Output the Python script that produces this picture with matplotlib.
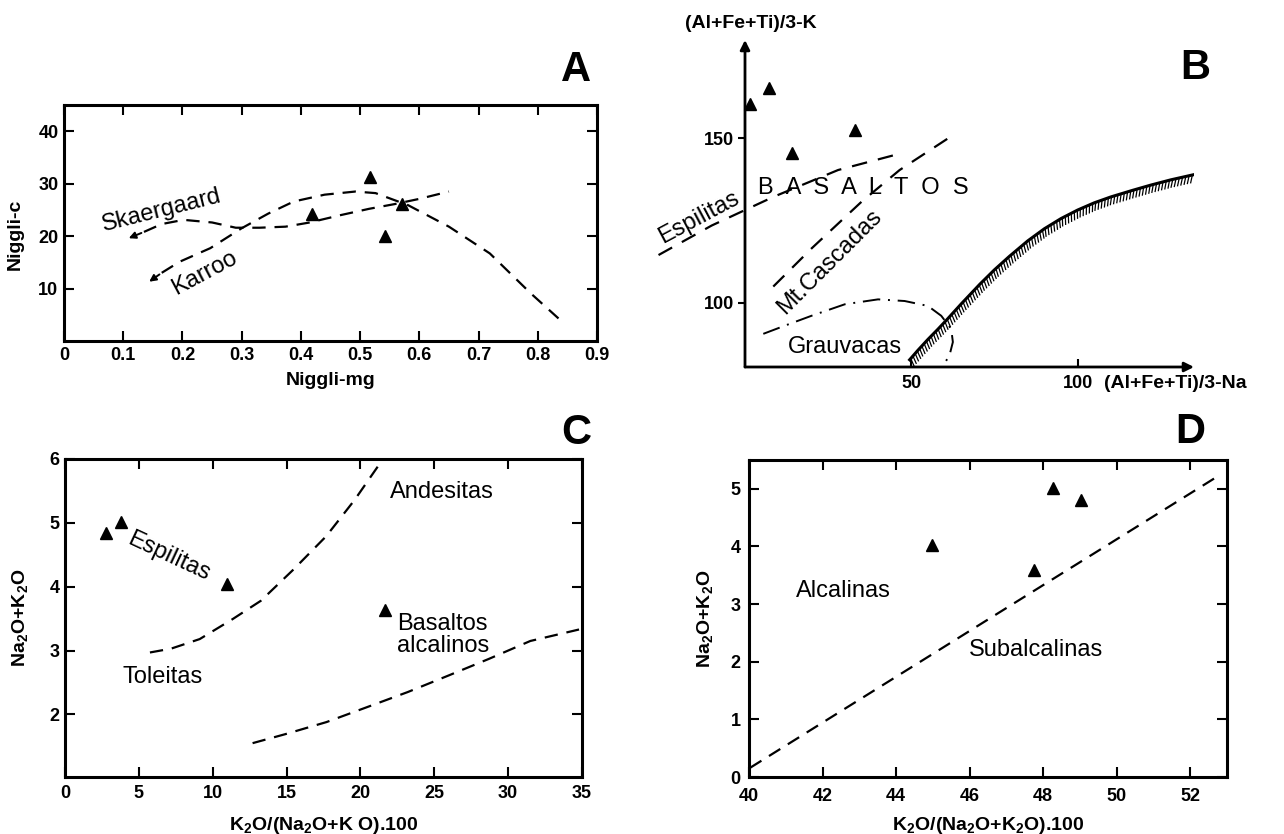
import numpy as np
import matplotlib.pyplot as plt
import matplotlib.patheffects as pe

plt.rcParams['font.family'] = ['Liberation Sans', 'DejaVu Sans']
plt.rcParams['mathtext.fontset'] = 'custom'
plt.rcParams['mathtext.rm'] = 'Liberation Sans'
plt.rcParams['mathtext.bf'] = 'Liberation Sans:bold'

# ---- data ----
# A: Niggli-mg vs Niggli-c
a_pts_x = [0.418, 0.517, 0.542, 0.571]
a_pts_y = [24.3, 31.3, 20.0, 26.1]
skaer_x = [0.105, 0.135, 0.165, 0.202, 0.25, 0.29, 0.33, 0.374, 0.415, 0.467, 0.515, 0.558, 0.60, 0.650]
skaer_y = [19.4, 20.8, 22.3, 23.1, 22.6, 21.6, 21.6, 21.8, 22.6, 24.0, 25.2, 26.1, 27.1, 28.5]
karroo_x = [0.14, 0.165, 0.195, 0.247, 0.300, 0.345, 0.388, 0.44, 0.492, 0.526, 0.581, 0.650, 0.719, 0.788, 0.835]
karroo_y = [11.0, 13.0, 15.1, 17.7, 21.5, 24.3, 26.6, 27.9, 28.5, 28.2, 25.9, 21.8, 16.7, 9.1, 4.3]

# B: (Al+Fe+Ti)/3-Na vs (Al+Fe+Ti)/3-K
b_pts_x = [1.5, 7.3, 14.1, 33.2]
b_pts_y = [160.6, 165.3, 145.7, 152.6]
espil_x = [-26, -10, 8.5, 28, 45.5]
espil_y = [114.5, 123.5, 132.2, 140.4, 145.1]
casc_x = [8.5, 20, 35, 46.5, 62.5]
casc_y = [104.9, 116.5, 130.7, 140.4, 151.0]
grauv_x = [5.5, 12, 20, 30, 40, 48, 55, 59, 62, 62.5, 61.5, 60]
grauv_y = [90.5, 93.0, 96.0, 99.5, 101.0, 100.5, 99.0, 96.0, 92.0, 88.0, 84.0, 81.5]
hatch_x = [49.5, 52, 55, 58, 60.6, 65, 70.6, 75, 79.5, 85, 90, 95, 100, 105, 110, 116.5, 122, 128, 135]
hatch_y = [82.6, 85.5, 88.8, 91.9, 94.7, 99.6, 105.6, 110.0, 114.1, 118.8, 122.5, 125.6, 128.2, 130.4, 132.2, 134.2, 135.8, 137.4, 139.0]

# C: K2O/(Na2O+K2O).100 vs Na2O+K2O
c_pts_x = [2.8, 3.76, 10.94, 21.66]
c_pts_y = [4.84, 5.01, 4.05, 3.64]
c_up_x = [5.75, 7.18, 9.12, 11.33, 13.26, 15.47, 17.68, 19.61, 21.41]
c_up_y = [2.97, 3.03, 3.18, 3.49, 3.78, 4.27, 4.79, 5.36, 5.96]
c_low_x = [12.7, 14.9, 17.7, 20.4, 23.2, 25.97, 28.7, 31.5, 34.8]
c_low_y = [1.55, 1.69, 1.88, 2.11, 2.35, 2.61, 2.87, 3.15, 3.33]

# D
d_pts_x = [44.97, 47.74, 48.28, 49.03]
d_pts_y = [4.02, 3.60, 5.02, 4.80]
d_line_x = [40.03, 52.83]
d_line_y = [0.16, 5.25]

W, H = 1284, 834
fig = plt.figure(figsize=(W / 100, H / 100), dpi=100)
fig.patch.set_facecolor('white')


def px_axes(l, t, r, b):
    return fig.add_axes([l / W, 1 - b / H, (r - l) / W, (b - t) / H])


def boxed(ax):
    for s in ax.spines.values():
        s.set_linewidth(2.2)
    ax.tick_params(direction='in', length=7, width=1.5, top=True, right=True,
                   labelsize=13, pad=4)


dash = (0, (6, 4))
tri = dict(marker='^', color='k', ms=9, ls='none', clip_on=False)
txt = dict(fontsize=17, color='k', ha='center', va='center')
bold_lbl = dict(fontsize=14, fontweight='bold')

# ---------------- A ----------------
axA = px_axes(64, 105, 597, 341)
boxed(axA)
axA.set_xlim(0, 0.9)
axA.set_ylim(0, 45)
xt = np.arange(0, 1.0, 0.1)
axA.set_xticks(xt, ['0'] + ['%.1f' % v for v in xt[1:]], fontweight='bold')
axA.set_yticks([10, 20, 30, 40], ['10', '20', '30', '40'], fontweight='bold')
axA.plot(skaer_x[1:], skaer_y[1:], 'k', lw=1.6, ls=dash)
axA.plot(karroo_x[1:], karroo_y[1:], 'k', lw=1.6, ls=dash)
for xs, ys in [(skaer_x, skaer_y), (karroo_x, karroo_y)]:
    axA.annotate('', xy=(xs[0], ys[0]), xytext=(xs[1], ys[1]),
                 arrowprops=dict(arrowstyle='-|>', color='k', lw=1.4, mutation_scale=10))
axA.plot(a_pts_x, a_pts_y, **tri)
axA.text(0.165, 24.9, 'Skaergaard', rotation=14, **txt)
axA.text(0.238, 13.0, 'Karroo', rotation=28, **txt)
axA.set_xlabel('Niggli-mg', **bold_lbl)
axA.set_ylabel('Niggli-c', **bold_lbl)
axA.xaxis.set_label_coords(0.5, -0.13)
axA.yaxis.set_label_coords(-0.075, 0.45)

# ---------------- B ----------------
axB = px_axes(745, 40, 1194, 367)
axB.set_xlim(0, 135)
axB.set_ylim(80.4, 180)
for s in axB.spines.values():
    s.set_visible(False)
for end in [(1, 0), (0, 1)]:
    axB.annotate('', xy=end, xytext=(0, 0), xycoords='axes fraction',
                 arrowprops=dict(arrowstyle='-|>', color='k', lw=2, mutation_scale=14,
                                 shrinkA=0, shrinkB=0))
axB.set_xticks([50, 100], ['50', '100'], fontweight='bold')
axB.set_yticks([100, 150], ['100', '150'], fontweight='bold')
axB.tick_params(axis='x', direction='in', length=6, width=1.5, labelsize=13, pad=6)
axB.tick_params(axis='y', direction='out', length=5, width=1.5, labelsize=13, pad=3)
axB.plot(espil_x, espil_y, 'k', lw=1.6, ls=(0, (7, 5)), clip_on=False)
axB.plot(casc_x, casc_y, 'k', lw=1.6, ls=(0, (7, 5)))
axB.plot(grauv_x, grauv_y, 'k', lw=1.4, ls=(0, (9, 4, 1, 4)))
axB.plot(hatch_x, hatch_y, 'k', lw=0.9,
         path_effects=[pe.withTickedStroke(angle=-115, spacing=2.4, length=2.4)])
axB.plot(hatch_x, hatch_y, 'k', lw=2.2)
axB.plot(b_pts_x, b_pts_y, **tri)
axB.text(35.5, 134.8, 'B  A  S  A  L  T  O  S', **txt)
axB.text(-14.0, 125.8, 'Espilitas', rotation=28, clip_on=False, **txt)
axB.text(25.5, 112.3, 'Mt.Cascadas', rotation=45, **txt)
axB.text(30, 86.6, 'Grauvacas', **txt)
fig.text(751 / W, 1 - 23 / H, '(Al+Fe+Ti)/3-K', ha='center', va='center', **bold_lbl)
fig.text(1104 / W, 1 - 383 / H, '(Al+Fe+Ti)/3-Na', ha='left', va='center', **bold_lbl)

# ---------------- C ----------------
axC = px_axes(65, 459, 582, 777)
boxed(axC)
axC.set_xlim(0, 35)
axC.set_ylim(1.02, 6)
xt = np.arange(0, 36, 5)
axC.set_xticks(xt, [str(v) for v in xt], fontweight='bold')
axC.set_yticks([2, 3, 4, 5, 6], ['2', '3', '4', '5', '6'], fontweight='bold')
axC.tick_params(axis='x', pad=6)
axC.plot(c_up_x, c_up_y, 'k', lw=1.6, ls=dash)
axC.plot(c_low_x, c_low_y, 'k', lw=1.6, ls=dash)
axC.plot(c_pts_x, c_pts_y, **tri)
axC.text(25.5, 5.49, 'Andesitas', **txt)
axC.text(7.05, 4.47, 'Espilitas', rotation=-25, **txt)
axC.text(6.6, 2.59, 'Toleitas', **txt)
axC.text(22.5, 3.25, 'Basaltos\nalcalinos', fontsize=17, ha='left', va='center', linespacing=1.0)
axC.set_xlabel(r'K$_\mathbf{2}$O/(Na$_\mathbf{2}$O+K O).100', **bold_lbl)
axC.set_ylabel(r'Na$_\mathbf{2}$O+K$_\mathbf{2}$O', **bold_lbl)
axC.xaxis.set_label_coords(0.5, -0.12)
axC.yaxis.set_label_coords(-0.065, 0.5)

# ---------------- D ----------------
axD = px_axes(749, 460, 1227, 777)
boxed(axD)
axD.set_xlim(40, 53)
axD.set_ylim(0, 5.5)
xt = np.arange(40, 53, 2)
axD.set_xticks(xt, [str(v) for v in xt], fontweight='bold')
axD.set_yticks(range(6), [str(v) for v in range(6)], fontweight='bold')
axD.tick_params(axis='x', pad=8)
axD.tick_params(axis='y', pad=6)
axD.plot(d_line_x, d_line_y, 'k', lw=1.6, ls=dash)
axD.plot(d_pts_x, d_pts_y, **tri)
axD.text(42.56, 3.22, 'Alcalinas', **txt)
axD.text(47.81, 2.21, 'Subalcalinas', **txt)
axD.set_xlabel(r'K$_\mathbf{2}$O/(Na$_\mathbf{2}$O+K$_\mathbf{2}$O).100', **bold_lbl)
axD.set_ylabel(r'Na$_\mathbf{2}$O+K$_\mathbf{2}$O', **bold_lbl)
axD.xaxis.set_label_coords(0.5, -0.12)
axD.yaxis.set_label_coords(-0.07, 0.5)

# panel letters
for letter, x, y in [('A', 576, 70), ('B', 1195, 68), ('C', 576, 433), ('D', 1190, 432)]:
    fig.text(x / W, 1 - y / H, letter, fontsize=30, fontweight='bold', ha='center', va='center')

fig.savefig('out.png', dpi=100)
